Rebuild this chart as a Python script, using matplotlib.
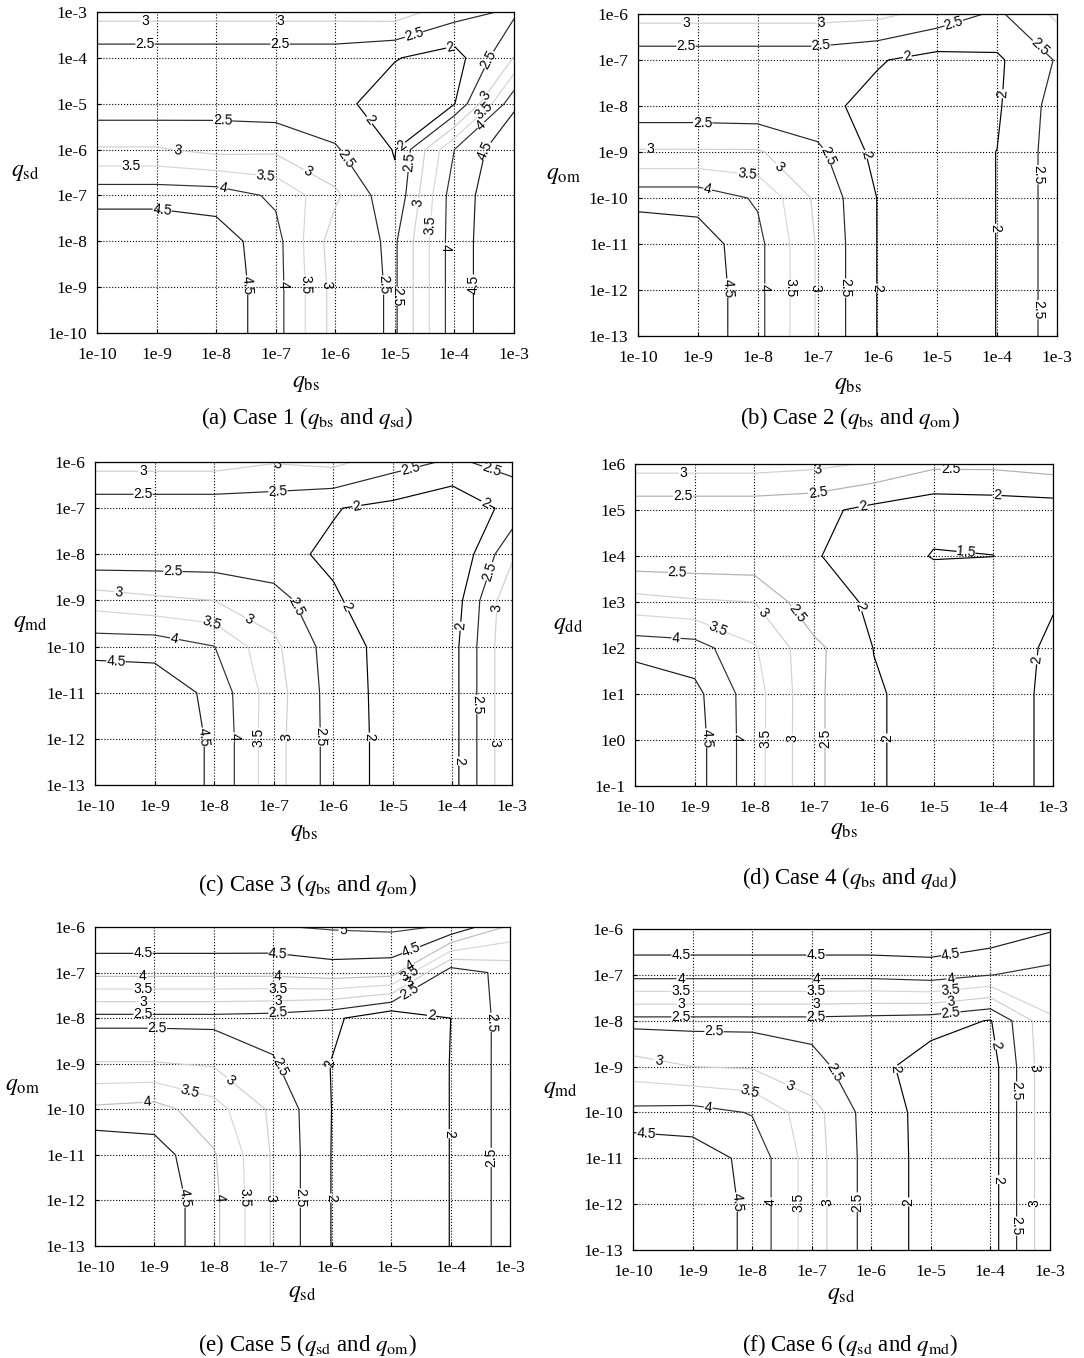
import numpy as np
import matplotlib
matplotlib.use("Agg")
import matplotlib.pyplot as plt

plt.rcParams['font.family'] = ['Liberation Serif', 'DejaVu Serif']
plt.rcParams['mathtext.fontset'] = 'stix'

# ---------------- data ----------------
x_exp = [-10, -9, -8, -7, -6, -5, -4, -3]
x_ticklabels = ['1e-10', '1e-9', '1e-8', '1e-7', '1e-6', '1e-5', '1e-4', '1e-3']

y_exp_a = [-10, -9, -8, -7, -6, -5, -4, -3]
y_ticklabels_a = ['1e-10', '1e-9', '1e-8', '1e-7', '1e-6', '1e-5', '1e-4', '1e-3']
y_exp_13 = [-13, -12, -11, -10, -9, -8, -7, -6]
y_ticklabels_13 = ['1e-13', '1e-12', '1e-11', '1e-10', '1e-9', '1e-8', '1e-7', '1e-6']
y_exp_d = [-1, 0, 1, 2, 3, 4, 5, 6]
y_ticklabels_d = ['1e-1', '1e0', '1e1', '1e2', '1e3', '1e4', '1e5', '1e6']

# grids: rows = y (bottom to top), columns = x (left to right)
z_case1 = [
    [4.97, 4.97, 4.85, 4.19, 2.80, 2.43, 4.28, 4.97],
    [4.97, 4.97, 4.85, 4.19, 2.80, 2.43, 4.28, 4.97],
    [4.97, 4.97, 4.77, 4.175, 2.72, 2.43, 4.28, 4.97],
    [4.30, 4.30, 4.27, 3.91, 3.10, 2.10, 4.30, 4.87],
    [3.05, 3.05, 2.85, 2.90, 2.55, 1.97, 4.00, 4.96],
    [2.19, 2.19, 2.30, 2.22, 2.17, 1.70, 1.98, 4.40],
    [2.20, 2.20, 2.20, 2.20, 2.20, 2.03, 1.76, 3.02],
    [3.20, 3.20, 3.20, 3.20, 3.20, 3.25, 2.71, 2.41],
]
z_case2 = [
    [4.97, 4.86, 4.14, 2.95, 1.99, 1.80, 2.005, 2.73],
    [4.97, 4.86, 4.14, 2.95, 1.99, 1.80, 2.005, 2.73],
    [4.97, 4.78, 4.14, 2.95, 1.99, 1.80, 2.005, 2.73],
    [4.30, 4.30, 3.94, 2.88, 1.99, 1.80, 2.005, 2.73],
    [3.05, 3.05, 3.05, 2.61, 1.85, 1.80, 2.005, 2.73],
    [2.19, 2.19, 2.15, 2.12, 1.86, 1.75, 1.94, 2.70],
    [2.20, 2.20, 2.20, 2.20, 2.04, 1.82, 1.92, 2.54],
    [3.20, 3.20, 3.20, 3.20, 3.14, 2.80, 2.41, 3.10],
]
z_case3 = [
    [4.97, 4.90, 4.42, 3.18, 2.31, 1.80, 1.82, 3.48],
    [4.97, 4.90, 4.42, 3.18, 2.31, 1.80, 1.82, 3.48],
    [4.97, 4.86, 4.35, 3.22, 2.285, 1.80, 1.82, 3.48],
    [4.30, 4.30, 4.01, 3.11, 2.25, 1.80, 1.82, 3.48],
    [3.27, 3.10, 3.00, 2.73, 2.05, 1.75, 1.71, 3.43],
    [2.10, 2.16, 2.18, 2.11, 1.93, 1.70, 1.50, 2.90],
    [2.20, 2.20, 2.20, 2.20, 2.026, 1.86, 1.60, 2.16],
    [3.20, 3.20, 3.20, 3.03, 3.13, 2.70, 2.43, 2.66],
]
z_case4 = [
    [4.97, 4.70, 3.70, 2.60, 2.05, 1.82, 1.85, 2.07],
    [4.97, 4.70, 3.70, 2.60, 2.05, 1.82, 1.85, 2.07],
    [4.97, 4.64, 3.71, 2.60, 2.05, 1.82, 1.85, 2.07],
    [4.30, 4.22, 3.55, 2.63, 1.99, 1.82, 1.85, 2.05],
    [3.19, 3.06, 3.00, 2.12, 1.96, 1.85, 1.85, 1.98],
    [2.16, 2.16, 2.14, 2.03, 1.80, 1.47, 1.495, 1.85],
    [2.20, 2.20, 2.20, 2.135, 1.86, 1.67, 1.71, 1.745],
    [3.20, 3.20, 3.20, 3.12, 2.95, 2.61, 2.61, 2.73],
]
z_case5 = [
    [4.97, 4.91, 4.12, 2.95, 1.98, 1.80, 2.005, 2.73],
    [4.97, 4.91, 4.12, 2.95, 1.98, 1.80, 2.005, 2.73],
    [4.97, 4.75, 4.05, 2.95, 1.98, 1.80, 2.005, 2.73],
    [4.10, 4.19, 3.70, 2.90, 1.99, 1.80, 2.005, 2.73],
    [3.03, 3.03, 2.95, 2.55, 1.98, 1.80, 2.005, 2.73],
    [2.35, 2.35, 2.35, 2.30, 2.11, 1.58, 2.00, 2.73],
    [4.15, 4.15, 4.15, 4.15, 4.28, 4.21, 2.20, 2.68],
    [4.98, 4.98, 4.98, 4.97, 5.05, 5.10, 4.95, 3.90],
]
z_case6 = [
    [4.97, 4.95, 4.35, 3.25, 2.27, 1.84, 1.77, 3.43],
    [4.97, 4.95, 4.35, 3.25, 2.27, 1.84, 1.77, 3.43],
    [4.97, 4.78, 4.35, 3.25, 2.27, 1.84, 1.77, 3.43],
    [4.13, 4.18, 3.97, 3.20, 2.25, 1.84, 1.77, 3.43],
    [3.20, 3.00, 2.95, 2.64, 2.21, 1.69, 1.77, 3.43],
    [2.35, 2.35, 2.35, 2.35, 2.30, 2.24, 1.97, 3.44],
    [4.15, 4.15, 4.15, 4.15, 4.15, 4.24, 4.01, 3.845],
    [4.96, 4.96, 4.96, 4.96, 4.96, 4.92, 4.85, 4.55],
]

levels_1 = [2, 2.5, 3, 3.5, 4, 4.5]
levels_4 = [1.5, 2, 2.5, 3, 3.5, 4, 4.5]
levels_5 = [2, 2.5, 3, 3.5, 4, 4.5, 5]

# ---------------- styling ----------------
col_std = {1.5: '#000000', 2: '#000000', 2.5: '#262626', 3: '#cfcfcf',
           3.5: '#d6d6d6', 4: '#303030', 4.5: '#1a1a1a', 5: '#404040'}
col_d = dict(col_std)
col_d[2.5] = '#b0b0b0'
col_e = dict(col_std)
col_e[4] = '#bdbdbd'

W, H = 1084, 1358
fig = plt.figure(figsize=(W / 100, H / 100), dpi=100)


def axrect(l, t, r, b):
    return [l / W, 1 - b / H, (r - l) / W, (b - t) / H]


def label_points(ax, cs, first=48.0, spacing=135.0):
    """Spread label anchor points along each contour path (MATLAB-like)."""
    pts = []
    for segs in cs.allsegs:
        for seg in segs:
            if len(seg) < 2:
                continue
            disp = ax.transData.transform(seg)
            d = np.r_[0, np.cumsum(np.hypot(*np.diff(disp, axis=0).T))]
            L = d[-1]
            if L < 25:
                continue
            targets = np.arange(first, L - 12, spacing) if L > first + 12 else [L / 2]
            for tgt in targets:
                k = np.searchsorted(d, tgt)
                k = min(max(k, 1), len(d) - 1)
                f = (tgt - d[k - 1]) / max(d[k] - d[k - 1], 1e-9)
                pts.append(tuple(seg[k - 1] + f * (seg[k] - seg[k - 1])))
    return pts


panels = [
    dict(rect=axrect(97, 12, 514, 333), z=z_case1, ye=y_exp_a, ytl=y_ticklabels_a,
         lev=levels_1, col=col_std, xl=r'$q_{\rm bs}$', yl=r'$q_{\rm sd}$', ylx=25, xly=383,
         cap=r'(a) Case 1 ($q_{\rm bs}$ and $q_{\rm sd}$)', capxy=(307, 418)),
    dict(rect=axrect(638, 14, 1057, 336), z=z_case2, ye=y_exp_13, ytl=y_ticklabels_13,
         lev=levels_1, col=col_std, xl=r'$q_{\rm bs}$', yl=r'$q_{\rm om}$', ylx=563, xly=385,
         cap=r'(b) Case 2 ($q_{\rm bs}$ and $q_{\rm om}$)', capxy=(850, 418)),
    dict(rect=axrect(95, 462, 512, 785), z=z_case3, ye=y_exp_13, ytl=y_ticklabels_13,
         lev=levels_1, col=col_std, xl=r'$q_{\rm bs}$', yl=r'$q_{\rm md}$', ylx=30, xly=832,
         cap=r'(c) Case 3 ($q_{\rm bs}$ and $q_{\rm om}$)', capxy=(307, 885)),
    dict(rect=axrect(635, 464, 1053, 786), z=z_case4, ye=y_exp_d, ytl=y_ticklabels_d,
         lev=levels_4, col=col_d, xl=r'$q_{\rm bs}$', yl=r'$q_{\rm dd}$', ylx=568, xly=830,
         cap=r'(d) Case 4 ($q_{\rm bs}$ and $q_{\rm dd}$)', capxy=(850, 878)),
    dict(rect=axrect(95, 927, 510, 1246), z=z_case5, ye=y_exp_13, ytl=y_ticklabels_13,
         lev=levels_5, col=col_e, xl=r'$q_{\rm sd}$', yl=r'$q_{\rm om}$', ylx=22, xly=1293,
         cap=r'(e) Case 5 ($q_{\rm sd}$ and $q_{\rm om}$)', capxy=(307, 1345)),
    dict(rect=axrect(633, 929, 1050, 1250), z=z_case6, ye=y_exp_13, ytl=y_ticklabels_13,
         lev=levels_1, col=col_std, xl=r'$q_{\rm sd}$', yl=r'$q_{\rm md}$', ylx=560, xly=1295,
         cap=r'(f) Case 6 ($q_{\rm sd}$ and $q_{\rm md}$)', capxy=(850, 1345)),
]

for p in panels:
    ax = fig.add_axes(p['rect'])
    ax.set_xlim(x_exp[0], x_exp[-1])
    ax.set_ylim(p['ye'][0], p['ye'][-1])
    Z = np.array(p['z'])
    cols = [p['col'][lv] for lv in p['lev']]
    cs = ax.contour(x_exp, p['ye'], Z, levels=p['lev'], colors=cols, linewidths=0.85)
    ax.set_xlim(x_exp[0], x_exp[-1])
    ax.set_ylim(p['ye'][0], p['ye'][-1])
    pts = label_points(ax, cs)
    ax.clabel(cs, fmt='%g', fontsize=10, inline=True, inline_spacing=1,
              colors='k', manual=pts)
    for t in cs.labelTexts:
        t.set_family(['Liberation Sans', 'DejaVu Sans'])
    ax.set_xticks(x_exp)
    ax.set_xticklabels(x_ticklabels)
    ax.set_yticks(p['ye'])
    ax.set_yticklabels(p['ytl'])
    ax.grid(True, linestyle=':', color='k', linewidth=0.8)
    ax.tick_params(direction='in', length=3, labelsize=12.5)
    ax.tick_params(axis='x', pad=10)
    ax.tick_params(axis='y', pad=7)
    for s in ax.spines.values():
        s.set_linewidth(0.9)
    bb = p['rect']
    fig.text((bb[0] * W + bb[2] * W / 2) / W, 1 - p['xly'] / H, p['xl'],
             ha='center', va='center', fontsize=17)
    fig.text(p['ylx'] / W, 1 - ((1 - bb[1] - bb[3]) * H + bb[3] * H / 2) / H, p['yl'],
             ha='center', va='center', fontsize=17)
    fig.text(p['capxy'][0] / W, 1 - p['capxy'][1] / H, p['cap'],
             ha='center', va='center', fontsize=16.5)

fig.savefig('out.png', dpi=100)
